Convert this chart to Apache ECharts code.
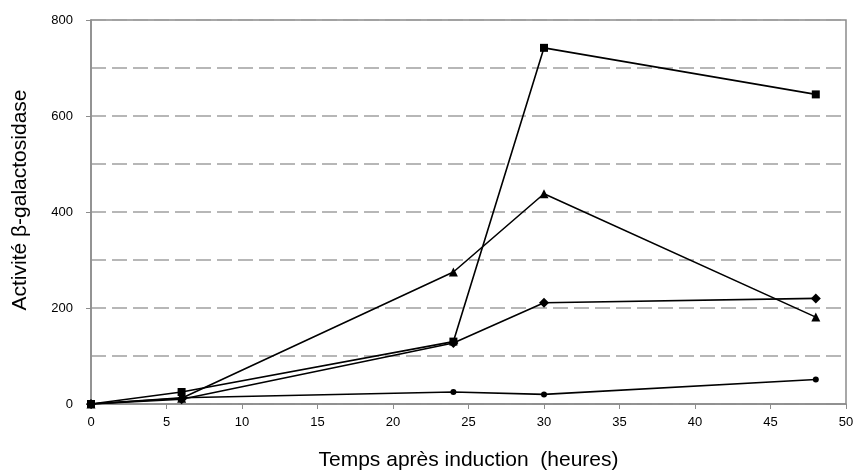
<!DOCTYPE html>
<html>
<head>
<meta charset="utf-8">
<script src="https://cdn.jsdelivr.net/npm/echarts@6/dist/echarts.min.js"></script>
<style>
  html, body { margin: 0; padding: 0; background: #fff; }
  #chart { width: 856px; height: 471px; }
</style>
</head>
<body>
<div id="chart"></div>
<script>
// Sampling times (hours after induction)
const hours = [0, 6, 24, 30, 48];

// β-galactosidase activity for each construct
const seriesSquare   = [0, 25, 130, 742, 645];
const seriesTriangle = [0, 12, 275, 438, 181];
const seriesDiamond  = [0, 10, 127, 211, 220];
const seriesCircle   = [0, 13, 25, 20, 51];

const xTitle = 'Temps après induction  (heures)';
const yTitle = 'Activité β-galactosidase';

const pairs = vals => hours.map((h, i) => [h, vals[i]]);

function lineSeries(vals, symbol, size) {
  return {
    type: 'line',
    data: pairs(vals),
    symbol: symbol,
    symbolSize: size,
    showAllSymbol: true,
    lineStyle: { color: '#000', width: 1.6 },
    itemStyle: { color: '#000' },
    emphasis: { disabled: true },
    z: 3
  };
}

const chart = echarts.init(document.getElementById('chart'));
chart.setOption({
  animation: false,
  textStyle: { fontFamily: 'Liberation Sans, Arial, sans-serif' },
  grid: {
    left: 91, right: 10, top: 20, bottom: 67,
    outerBoundsMode: 'none', containLabel: false,
    show: true, borderColor: '#8c8c8c', borderWidth: 1.5, backgroundColor: '#fff'
  },
  xAxis: {
    type: 'value', min: 0, max: 50, interval: 5,
    name: xTitle, nameLocation: 'middle', nameGap: 46,
    nameTextStyle: { fontSize: 21, color: '#000' },
    axisLine: { show: true, lineStyle: { color: '#8c8c8c', width: 1.5 } },
    axisTick: { show: true, inside: false, length: 5, lineStyle: { color: '#8c8c8c' } },
    axisLabel: { fontSize: 13, color: '#000', margin: 12 },
    splitLine: { show: false }
  },
  yAxis: {
    type: 'value', min: 0, max: 800, interval: 200,
    name: yTitle, nameLocation: 'middle', nameGap: 60,
    nameTextStyle: { fontSize: 21, color: '#000', padding: [0, 0, 0, 24] },
    axisLine: { show: true, lineStyle: { color: '#8c8c8c', width: 1.5 } },
    axisTick: { show: true, length: 5, lineStyle: { color: '#8c8c8c' } },
    axisLabel: { fontSize: 13, color: '#000', margin: 18 },
    splitLine: { show: true, lineStyle: { color: '#a0a0a0', width: 1.6, type: [15, 6] } },
    minorTick: { show: false, splitNumber: 2 },
    minorSplitLine: { show: true, lineStyle: { color: '#a0a0a0', width: 1.6, type: [15, 6] } }
  },
  series: [
    lineSeries(seriesCircle, 'circle', 6),
    lineSeries(seriesDiamond, 'diamond', 10),
    lineSeries(seriesTriangle, 'triangle', 9),
    lineSeries(seriesSquare, 'rect', 8)
  ]
});
</script>
</body>
</html>
